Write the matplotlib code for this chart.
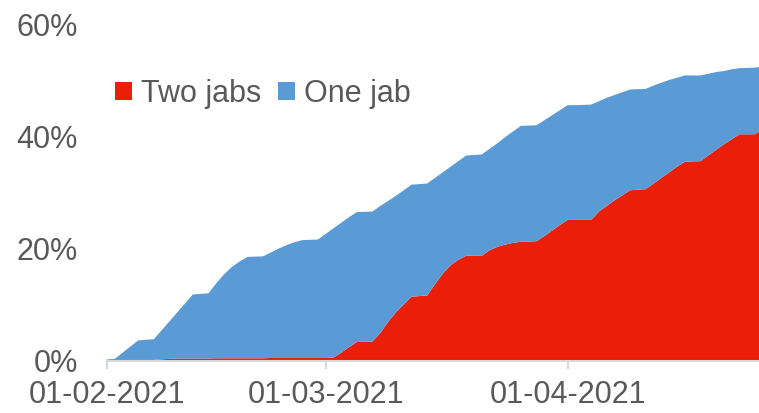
import pandas as pd
import matplotlib.pyplot as plt
import matplotlib.dates as mdates

# Daily share of adults vaccinated, from 01-02-2021
dates = pd.date_range('2021-02-01', periods=85, freq='D')

# at least one jab (top of the stack), %
total = [0.2, 0.3, 1.4, 2.5, 3.6, 3.7, 3.8, 5.4, 7.0, 8.6,
         10.2, 11.8, 11.9, 12.0, 13.8, 15.4, 16.7, 17.7, 18.5, 18.55,
         18.6, 19.3, 20.0, 20.6, 21.1, 21.5, 21.55, 21.6, 22.6, 23.6,
         24.6, 25.6, 26.5, 26.55, 26.6, 27.6, 28.5, 29.4, 30.4, 31.4,
         31.5, 31.6, 32.6, 33.6, 34.6, 35.6, 36.6, 36.7, 36.8, 37.8,
         38.8, 39.9, 40.9, 41.9, 41.95, 42.0, 42.9, 43.8, 44.7, 45.6,
         45.6, 45.65, 45.7, 46.3, 46.9, 47.4, 47.9, 48.4, 48.45, 48.5,
         49.1, 49.6, 50.1, 50.5, 50.9, 50.9, 50.9, 51.2, 51.5, 51.7,
         52.0, 52.2, 52.25, 52.3, 52.5]

# two jabs, %
two_jabs = [0.0, 0.0, 0.0, 0.0, 0.0, 0.0, 0.1, 0.2, 0.3, 0.35,
            0.35, 0.35, 0.35, 0.35, 0.4, 0.4, 0.4, 0.4, 0.4, 0.4,
            0.4, 0.45, 0.45, 0.45, 0.45, 0.45, 0.45, 0.45, 0.45, 0.5,
            1.4, 2.4, 3.3, 3.35, 3.4, 4.9, 6.9, 8.6, 10.0, 11.4,
            11.5, 11.6, 13.6, 15.5, 17.0, 18.0, 18.7, 18.7, 18.7, 19.7,
            20.3, 20.7, 21.0, 21.2, 21.25, 21.3, 22.2, 23.2, 24.2, 25.1,
            25.1, 25.1, 25.1, 26.6, 27.6, 28.6, 29.5, 30.4, 30.5, 30.6,
            31.6, 32.6, 33.6, 34.6, 35.5, 35.55, 35.6, 36.6, 37.6, 38.6,
            39.5, 40.4, 40.4, 40.4, 41.4]

one_jab = [t - s for t, s in zip(total, two_jabs)]

two = [v / 100 for v in two_jabs]
one = [v / 100 for v in one_jab]

plt.rcParams['font.family'] = ['Liberation Sans', 'DejaVu Sans']
txt = '#595959'

fig = plt.figure(figsize=(7.59, 4.13), dpi=100)
ax = fig.add_axes([107 / 759, 1 - 360.5 / 413, 1 - 107 / 759, 336 / 413])

ax.stackplot(dates, two, one, colors=['#EB1E07', '#5B9BD5'],
             labels=['Two jabs', 'One jab'], linewidth=0)

ax.set_ylim(0, 0.6)
ax.set_yticks([0, 0.2, 0.4, 0.6])
ax.set_yticklabels(['0%', '20%', '40%', '60%'])
ax.set_xlim(dates[0], dates[0] + pd.Timedelta(days=83.5))
ax.set_xticks(pd.to_datetime(['2021-02-01', '2021-03-01', '2021-04-01']))
ax.xaxis.set_major_formatter(mdates.DateFormatter('%d-%m-%Y'))

for s in ['top', 'right', 'left']:
    ax.spines[s].set_visible(False)
ax.spines['bottom'].set_color('#d9d9d9')
ax.spines['bottom'].set_linewidth(1.5)
ax.tick_params(axis='y', length=0, pad=21, labelsize=22, labelcolor=txt)
ax.tick_params(axis='x', length=6, width=1.5, color='#d9d9d9',
               pad=8, labelsize=22, labelcolor=txt)

ax.legend(loc='center left', bbox_to_anchor=(0.012, 0.793), ncol=2,
          frameon=False, borderpad=0, borderaxespad=0,
          fontsize=22, labelcolor=txt, handlelength=0.55, handleheight=0.55,
          handletextpad=0.3, columnspacing=0.55)

plt.savefig('out.png', dpi=100)
